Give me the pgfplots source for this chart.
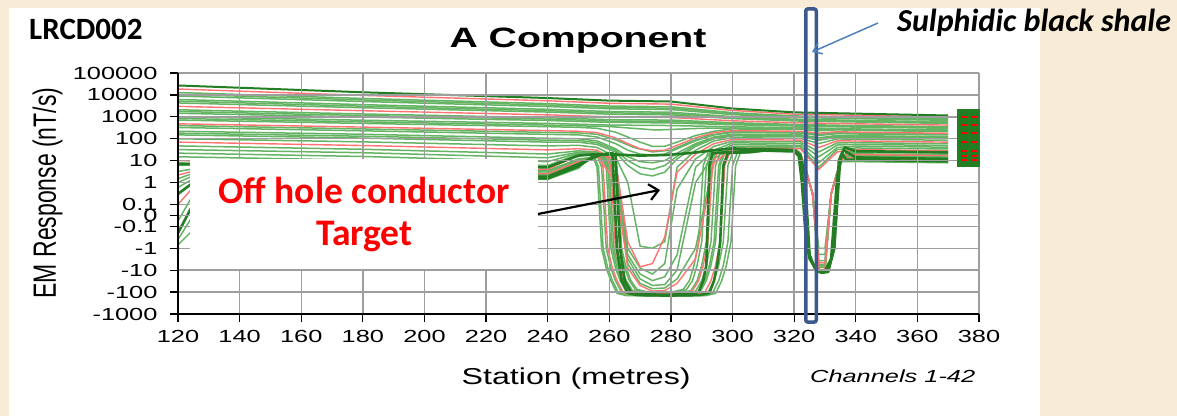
\documentclass[border=0pt]{standalone}
\usepackage{graphicx}
\usepackage{fontspec}
\setmainfont{Liberation Sans}
\newfontfamily\calibri{Carlito}
\usepackage{pgfplots}
\pgfplotsset{compat=1.18}
\usetikzlibrary{arrows.meta}
\definecolor{bg}{RGB}{248,236,214}
\definecolor{lg}{RGB}{100,180,100}
\definecolor{rl}{RGB}{255,115,115}
\definecolor{dg}{RGB}{35,125,35}
\definecolor{shale}{RGB}{59,89,140}
\definecolor{abl}{RGB}{79,129,189}
\newcommand{\sx}[1]{\scalebox{1.45}[1]{#1}}
\newcommand{\slx}[1]{\scalebox{1.4}[1]{#1}}
\begin{document}
\begin{tikzpicture}[x=1pt,y=1pt]
\useasboundingbox (0,0) rectangle (1177,416);
\fill[bg] (0,0) rectangle (1177,416);
\fill[white] (9,0) rectangle (1040,408);
\begin{axis}[
  at={(178pt,102pt)}, anchor=south west,
  width=801pt, height=241pt, scale only axis,
  xmin=120, xmax=380, ymin=-1000, ymax=100000,
  enlargelimits=false,
  y coord trafo/.code={\begingroup\pgfkeys{/pgf/fpu=true,/pgf/fpu/output format=fixed}\pgfmathparse{(abs(#1)>0.0999)*((#1>0)-(#1<0))*(ln(max(abs(#1),0.1))*0.4342944819+1.5)+(abs(#1)<0.0999)*5*(#1)}\xdef\mytrafores{\pgfmathresult}\endgroup\let\pgfmathresult\mytrafores},
  axis x line*=bottom, axis y line*=left,
  axis line style={black, line width=1.5pt},
  xtick={120,140,160,180,200,220,240,260,280,300,320,340,360,380},
  xticklabels={\sx{120},\sx{140},\sx{160},\sx{180},\sx{200},\sx{220},\sx{240},\sx{260},\sx{280},\sx{300},\sx{320},\sx{340},\sx{360},\sx{380}},
  ytick={-1000,-100,-10,-1,-0.1,0,0.1,1,10,100,1000,10000,100000},
  yticklabels={\sx{-1000},\sx{-100},\sx{-10},\sx{-1},\sx{-0.1},\sx{0},\sx{0.1},\sx{1},\sx{10},\sx{100},\sx{1000},\sx{10000},\sx{100000}},
  tick align=outside, major tick length=8pt,
  tick style={black, line width=1.3pt},
  tick label style={font=\fontsize{17.5}{17.5}\selectfont},
  yticklabel style={anchor=east, xshift=-9pt},
  xticklabel style={anchor=north, yshift=-5pt},
  grid=major, major grid style={black!38, line width=1.4pt},
  axis on top,
  xlabel={\slx{Station (metres)}},
  xlabel style={at={(axis description cs:0.497,0)}, anchor=base, yshift=-70pt, font=\fontsize{23}{23}\selectfont},
  ylabel={\scalebox{1}[1.4]{EM Response (nT/s)}},
  ylabel style={at={(axis description cs:-0.163,0.502)}, anchor=center, font=\fontsize{23}{23}\selectfont},
  title={\slx{A Component}},
  title style={at={(axis description cs:0.4994,1)}, anchor=base, yshift=20pt, font=\fontsize{28}{28}\selectfont\bfseries},
  gl/.style={lg, line width=1.5pt},
  rd/.style={rl, line width=1.4pt},
  tk/.style={dg, line width=2.6pt},
]
% ---------- early channels ----------
\addplot[gl] coordinates {(120,12900)(180,6900)(240,4000)(260,3100)(280,2880)(300,1550)(320,1100)(340,980)(370,820)};
\addplot[gl] coordinates {(120,10700)(180,5900)(240,3450)(260,2700)(280,2480)(300,1400)(320,1010)(340,900)(370,750)};
\addplot[gl] coordinates {(120,8900)(180,5000)(240,2950)(260,2340)(280,2140)(300,1260)(320,930)(340,830)(370,690)};
\addplot[gl] coordinates {(120,6200)(180,3600)(240,2200)(260,1750)(280,1620)(300,1020)(320,780)(340,690)(370,590)};
\addplot[gl] coordinates {(120,5200)(180,3060)(240,1900)(260,1520)(280,1410)(300,920)(320,710)(340,630)(370,540)};
\addplot[gl] coordinates {(120,4300)(180,2600)(240,1650)(260,1320)(280,1230)(300,830)(320,650)(340,580)(370,500)};
\addplot[gl] coordinates {(120,2100)(180,1350)(240,910)(260,740)(280,710)(300,540)(320,450)(340,400)(370,355)};
\addplot[gl] coordinates {(120,1750)(180,1150)(240,790)(260,640)(280,610)(300,485)(320,415)(340,370)(370,325)};
\addplot[gl] coordinates {(120,1450)(180,980)(240,680)(260,560)(280,525)(300,435)(320,380)(340,340)(370,300)};
\addplot[gl] coordinates {(120,1000)(180,700)(240,500)(260,420)(280,400)(300,350)(320,320)(340,280)(370,250)};
\addplot[gl] coordinates {(120,840)(180,590)(240,420)(260,360)(275,250)(290,300)(300,310)(320,290)(340,260)(370,230)};
% ---------- mid channels ----------
\addplot[gl] coordinates {(120,710)(180,500)(240,355)(250,330)(256,300)(262,200)(266,120)(270,70)(274,45)(278,45)(282,70)(288,140)(294,220)(300,280)(310,270)(320,265)(322,265)(328,230)(334,255)(340,240)(370,212)};
\addplot[gl] coordinates {(120,400)(180,280)(240,195)(250,185)(256,160)(262,90)(268,40)(274,25)(280,30)(286,70)(292,140)(300,215)(310,208)(320,200)(322,200)(328,160)(334,190)(340,182)(370,162)};
\addplot[gl] coordinates {(120,325)(180,230)(240,158)(250,150)(256,120)(262,60)(266,30)(270,20)(274,18)(278,20)(282,35)(288,80)(294,150)(300,195)(310,188)(320,182)(322,182)(328,140)(334,172)(340,165)(370,148)};
\addplot[gl] coordinates {(120,220)(180,160)(240,105)(250,100)(256,80)(262,35)(266,15)(270,9)(274,8)(278,10)(282,22)(288,60)(294,120)(300,162)(310,156)(320,152)(322,152)(328,110)(334,142)(340,138)(370,123)};
\addplot[gl] coordinates {(120,180)(180,130)(240,86)(250,84)(256,66)(262,30)(266,10)(270,5)(274,4)(278,6)(282,16)(288,52)(294,110)(300,148)(310,143)(320,139)(322,139)(328,97)(334,130)(340,126)(370,112)};
\addplot[gl] coordinates {(120,150)(180,107)(240,70)(250,70)(256,55)(262,25)(266,6)(270,2.5)(274,2)(278,3)(282,12)(288,45)(294,100)(300,135)(310,130)(320,126)(322,126)(328,85)(334,118)(340,115)(370,102)};
\addplot[gl] coordinates {(120,100)(180,72)(240,47)(250,50)(256,40)(262,15)(266,1)(270,-0.8)(274,-1)(278,-0.5)(282,5)(288,30)(294,80)(300,112)(310,108)(320,105)(322,105)(328,60)(334,98)(340,95)(370,85)};
\addplot[gl] coordinates {(120,47)(180,33)(240,20)(250,28)(256,25)(262,8)(266,-1)(270,-8)(274,-15)(278,-5)(282,0.5)(288,12)(294,45)(300,78)(310,75)(320,73)(322,73)(328,25)(334,65)(340,66)(370,59)};
\addplot[gl] coordinates {(120,32)(180,23)(240,13.5)(250,24)(256,22)(262,5)(266,-2)(270,-15)(274,-30)(278,-20)(282,-2)(288,5)(294,30)(300,65)(310,63)(320,61)(322,61)(328,15)(334,52)(340,55)(370,49)};
\addplot[gl] coordinates {(120,22)(180,15.5)(240,9)(250,22)(256,20)(262,3)(266,-3)(270,-25)(274,-50)(278,-45)(282,-10)(288,1)(294,20)(300,54)(310,52)(320,50)(322,50)(328,8)(334,40)(340,46)(370,41)};
\addplot[gl] coordinates {(120,15)(180,10.5)(240,6)(250,20)(256,20)(262,2)(266,-5)(270,-40)(274,-70)(278,-65)(282,-25)(288,-1)(294,12)(300,45)(310,43)(320,42)(322,42)(328,5)(334,32)(340,38)(370,34)};
% ---------- late channels ----------
\addplot[gl] coordinates {(120,8)(126,7.5)(140,6.5)(180,5)(240,3.5)(250,12)(261,18)(262.5,5)(264,-1)(265.5,-8)(267,-30)(269,-75)(272,-95)(276.5,-100)(281,-95)(284,-75)(286,-30)(287.5,-6)(289,-0.5)(290.5,6)(292,22)(306,36)(310,40)(320,38)(322,23)(324,3)(326,0.3)(328,-1)(330,-1)(332,0.3)(334,3)(335.5,12)(337,26)(340,26)(370,24)};
\addplot[gl] coordinates {(120,6)(126,6.5)(140,5.8)(180,4.5)(240,3.2)(250,11)(260.5,18)(262,5)(263.5,-1)(265,-8)(266.5,-30)(268.5,-78)(271.5,-99)(277,-104)(282,-99)(285,-78)(287,-30)(288.5,-6)(290,-0.5)(291.5,6)(293,22)(306,35)(310,39)(320,37)(322,22)(324,3)(326,0.3)(328,-1.9)(330,-1.9)(332,0.3)(334,3)(335.5,12)(337,24)(340,24)(370,22)};
\addplot[gl] coordinates {(120,3.2)(126,4.5)(140,4.6)(180,3.6)(240,2.7)(250,9.5)(259.5,18)(261,5)(262.5,-1)(264,-8)(265.5,-30)(267.5,-84)(270.5,-106)(277,-112)(283.5,-106)(286.5,-84)(288.5,-30)(290,-6)(291.5,-0.5)(293,6)(294.5,22)(306,33)(310,37)(320,35)(322,21)(324,3)(326,0.3)(328,-3.7)(330,-3.7)(332,0.3)(334,3)(335.5,12)(337,20.5)(340,20.5)(370,18.5)};
\addplot[gl] coordinates {(120,1.5)(126,3)(140,3.7)(180,2.9)(240,2.3)(250,8.5)(258.5,18)(260,5)(261.5,-1)(263,-8)(264.5,-30)(266.5,-90)(269.5,-114)(277,-120)(285,-114)(288,-90)(290,-30)(291.5,-6)(293,-0.5)(294.5,6)(296,22)(306,31)(310,35)(320,33)(322,20)(324,3)(326,0.3)(328,-5.5)(330,-5.5)(332,0.3)(334,3)(335.5,12)(337,17.5)(340,17.5)(370,15.5)};
\addplot[gl] coordinates {(120,1.0)(126,2.4)(140,3.3)(180,2.6)(240,2.1)(250,8)(258,18)(259.5,5)(261,-1)(262.5,-8)(264,-30)(266,-93)(269,-118)(278,-124)(286,-118)(289,-93)(291,-30)(292.5,-6)(294,-0.5)(295.5,6)(297,22)(306,30)(310,34)(320,32)(322,19)(324,3)(326,0.3)(328,-6.4)(330,-6.4)(332,0.3)(334,3)(335.5,12)(337,16)(340,16)(370,14)};
\addplot[gl] coordinates {(120,0.6)(126,1.8)(140,3.0)(180,2.3)(240,2.0)(250,7.5)(257.5,18)(259,5)(260.5,-1)(262,-8)(263.5,-30)(265.5,-96)(268.5,-122)(278,-128)(286.5,-122)(289.5,-96)(291.5,-30)(293,-6)(294.5,-0.5)(296,6)(297.5,22)(306,29)(310,33)(320,31)(322,19)(324,3)(326,0.3)(328,-7.3)(330,-7.3)(332,0.3)(334,3)(335.5,12)(337,15)(340,15)(370,13)};
\addplot[gl] coordinates {(120,-0.05)(126,0.5)(140,2.2)(180,1.7)(240,1.65)(250,6)(256,18)(257.5,5)(259,-1)(260.5,-8)(262,-30)(264,-105)(267,-133)(278,-140)(289,-133)(292,-105)(294,-30)(295.5,-6)(297,-0.5)(298.5,6)(300,22)(306,26)(310,30)(320,28)(322,17)(324,3)(326,0.3)(328,-10)(330,-10)(332,0.3)(334,3)(335.5,12)(337,12)(340,12)(370,10)};
\addplot[gl] coordinates {(120,-0.4)(126,0.05)(140,1.8)(180,1.4)(240,1.45)(250,5)(255,18)(256.5,5)(258,-1)(259.5,-8)(261,-30)(263,-111)(266,-141)(279,-148)(290.5,-141)(293.5,-111)(295.5,-30)(297,-6)(298.5,-0.5)(300,6)(301.5,22)(306,24)(310,28)(320,26)(322,16)(324,3)(326,0.3)(328,-12)(330,-12)(332,0.3)(334,3)(335.5,10)(337,10)(340,10)(370,8.5)};
\addplot[gl] coordinates {(120,-0.7)(126,-0.1)(140,1.6)(180,1.3)(240,1.4)(250,4.5)(254.5,18)(256,5)(257.5,-1)(259,-8)(260.5,-30)(262.5,-114)(265.5,-144)(279,-152)(291.5,-144)(294.5,-114)(296.5,-30)(298,-6)(299.5,-0.5)(301,6)(302.5,22)(306,23)(310,27)(320,25)(322,15)(324,3)(326,0.3)(328,-13)(330,-13)(332,0.3)(334,3)(335.5,9)(337,9)(340,9)(370,8)};
% ---------- red channels ----------
\addplot[rd] coordinates {(120,18600)(180,9500)(240,5400)(260,4150)(280,3800)(300,1950)(320,1320)(340,1180)(370,970)};
\addplot[rd] coordinates {(120,3000)(180,1900)(240,1230)(260,1000)(280,930)(300,660)(320,540)(340,480)(370,420)};
\addplot[rd] coordinates {(120,480)(180,340)(240,235)(250,220)(256,190)(262,110)(266,60)(270,35)(274,28)(278,30)(282,50)(288,110)(294,190)(300,235)(310,228)(320,220)(322,220)(328,180)(334,210)(340,200)(370,178)};
\addplot[rd] coordinates {(120,70)(180,49)(240,31)(250,35)(256,30)(262,10)(266,-0.5)(270,-7)(274,-5)(278,-0.3)(282,3)(288,20)(294,60)(300,93)(310,90)(320,87)(322,87)(328,40)(334,80)(340,79)(370,70)};
\addplot[rd] coordinates {(120,10)(180,7)(240,4)(250,18)(256,18)(262,1)(266,-8)(270,-50)(274,-90)(278,-85)(282,-40)(288,-3)(294,8)(300,37)(310,36)(320,35)(322,35)(328,4)(334,25)(340,32)(370,28)};
\addplot[rd] coordinates {(120,2.2)(126,3.6)(140,4.1)(180,3.2)(240,2.5)(250,9)(259,18)(260.5,5)(262,-1)(263.5,-8)(265,-30)(267,-87)(270,-110)(277,-116)(284,-110)(287,-87)(289,-30)(290.5,-6)(292,-0.5)(293.5,6)(295,22)(306,32)(310,36)(320,34)(322,20)(324,3)(326,0.3)(328,-4.6)(330,-4.6)(332,0.3)(334,3)(335.5,12)(337,19)(340,19)(370,17)};
\addplot[rd] coordinates {(120,0.1)(126,0.9)(140,2.4)(180,1.9)(240,1.75)(250,6.5)(256.5,18)(258,5)(259.5,-1)(261,-8)(262.5,-30)(264.5,-102)(267.5,-129)(278,-136)(288,-129)(291,-102)(293,-30)(294.5,-6)(296,-0.5)(297.5,6)(299,22)(306,27)(310,31)(320,29)(322,17)(324,3)(326,0.3)(328,-9.1)(330,-9.1)(332,0.3)(334,3)(335.5,12)(337,13)(340,13)(370,11)};
% ---------- thick channels ----------
\addplot[dg, line width=2pt] coordinates {(120,27000)(180,13200)(240,7200)(260,5500)(280,5000)(300,2400)(320,1600)(340,1400)(370,1150)};
\addplot[tk] coordinates {(120,7)(180,5.5)(240,5)(250,17)(256,20)(262,19)(270,17)(278,18)(286,22)(294,30)(300,36)(310,33)(320,30)(321.5,20)(323,1)(325,-3)(327,-9)(329,-13)(331,-11)(333,-1)(335,15)(336.5,40)(340,27)(370,24)};
\addplot[tk] coordinates {(120,0.3)(126,1.3)(140,2.7)(180,2.1)(240,1.85)(250,7)(257,18)(262,20)(263.5,-1)(265,-30)(267,-99)(270,-125)(278,-132)(286,-125)(289,-99)(290.5,-30)(291.5,-6)(292.5,6)(293.5,22)(306,28)(310,32)(320,30)(322,18)(323.5,2)(325,-2)(327,-10)(329,-13)(331,-12)(333,-1)(334.5,10)(336,30)(340,14)(370,12)};
\addplot[tk] coordinates {(120,-0.2)(126,0.2)(140,2.0)(180,1.55)(240,1.55)(250,5.5)(255.5,18)(261,22)(262.5,-1)(264,-30)(266,-108)(269,-137)(279,-144)(289.5,-137)(292.5,-108)(294,-30)(295,-6)(296,-0.5)(297,6)(298.5,22)(306,25)(310,29)(320,27)(321.5,16)(322.5,1)(324,-1)(326,-5)(328,-11)(330,-11)(332,-3)(334,2)(335.5,20)(337,11)(340,11)(370,9.2)};
% ---------- end markers ----------
\addplot[only marks, mark=square*, mark size=3.6pt, dg] coordinates {(374,1600)(374,1150)(374,820)(374,590)(374,420)(374,300)(374,212)(374,148)(374,102)(374,70)(374,49)(374,34)(374,24)(374,17)(374,12)(374,8)(376.5,1600)(376.5,1150)(376.5,820)(376.5,590)(376.5,420)(376.5,300)(376.5,212)(376.5,148)(376.5,102)(376.5,70)(376.5,49)(376.5,34)(376.5,24)(376.5,17)(376.5,12)(376.5,8)(379,1600)(379,1150)(379,820)(379,590)(379,420)(379,300)(379,212)(379,148)(379,102)(379,70)(379,49)(379,34)(379,24)(379,17)(379,12)(379,8)};
\addplot[only marks, mark=-, mark size=3pt, red, mark options={line width=2pt}] coordinates {(375,970)(375,420)(375,178)(375,70)(375,28)(375,17)(375,11)(378.5,970)(378.5,420)(378.5,178)(378.5,70)(378.5,28)(378.5,17)(378.5,11)};
\end{axis}
% annotation box
\fill[white] (190,147) rectangle (538,257);
\node[anchor=base, text=red, font=\calibri\bfseries\fontsize{37.5}{37.5}\selectfont, inner sep=0] at (364,213) {Off hole conductor};
\node[anchor=base, text=red, font=\calibri\bfseries\fontsize{37.5}{37.5}\selectfont, inner sep=0] at (364.5,171) {Target};
\draw[black, line width=2.2pt, -{Straight Barb[length=9pt,width=16pt]}] (538,202) -- (660,226);
% other texts
\node[anchor=base west, font=\calibri\bfseries\fontsize{31}{31}\selectfont, inner sep=0] at (29,376) {LRCD002};
\node[anchor=base west, font=\calibri\bfseries\itshape\fontsize{32}{32}\selectfont, inner sep=0] at (897,384) {Sulphidic black shale};
\node[anchor=base west, font=\itshape\fontsize{17.5}{17.5}\selectfont, inner sep=0] at (810,34) {\sx{Channels 1-42}};
% shale marker
\draw[shale, line width=3.5pt, rounded corners=2pt] (805.75,94) rectangle (816.25,407);
\draw[abl, line width=1.5pt, -{Straight Barb[length=8pt,width=12pt]}] (878,393) -- (812,364);
\end{tikzpicture}
\end{document}
